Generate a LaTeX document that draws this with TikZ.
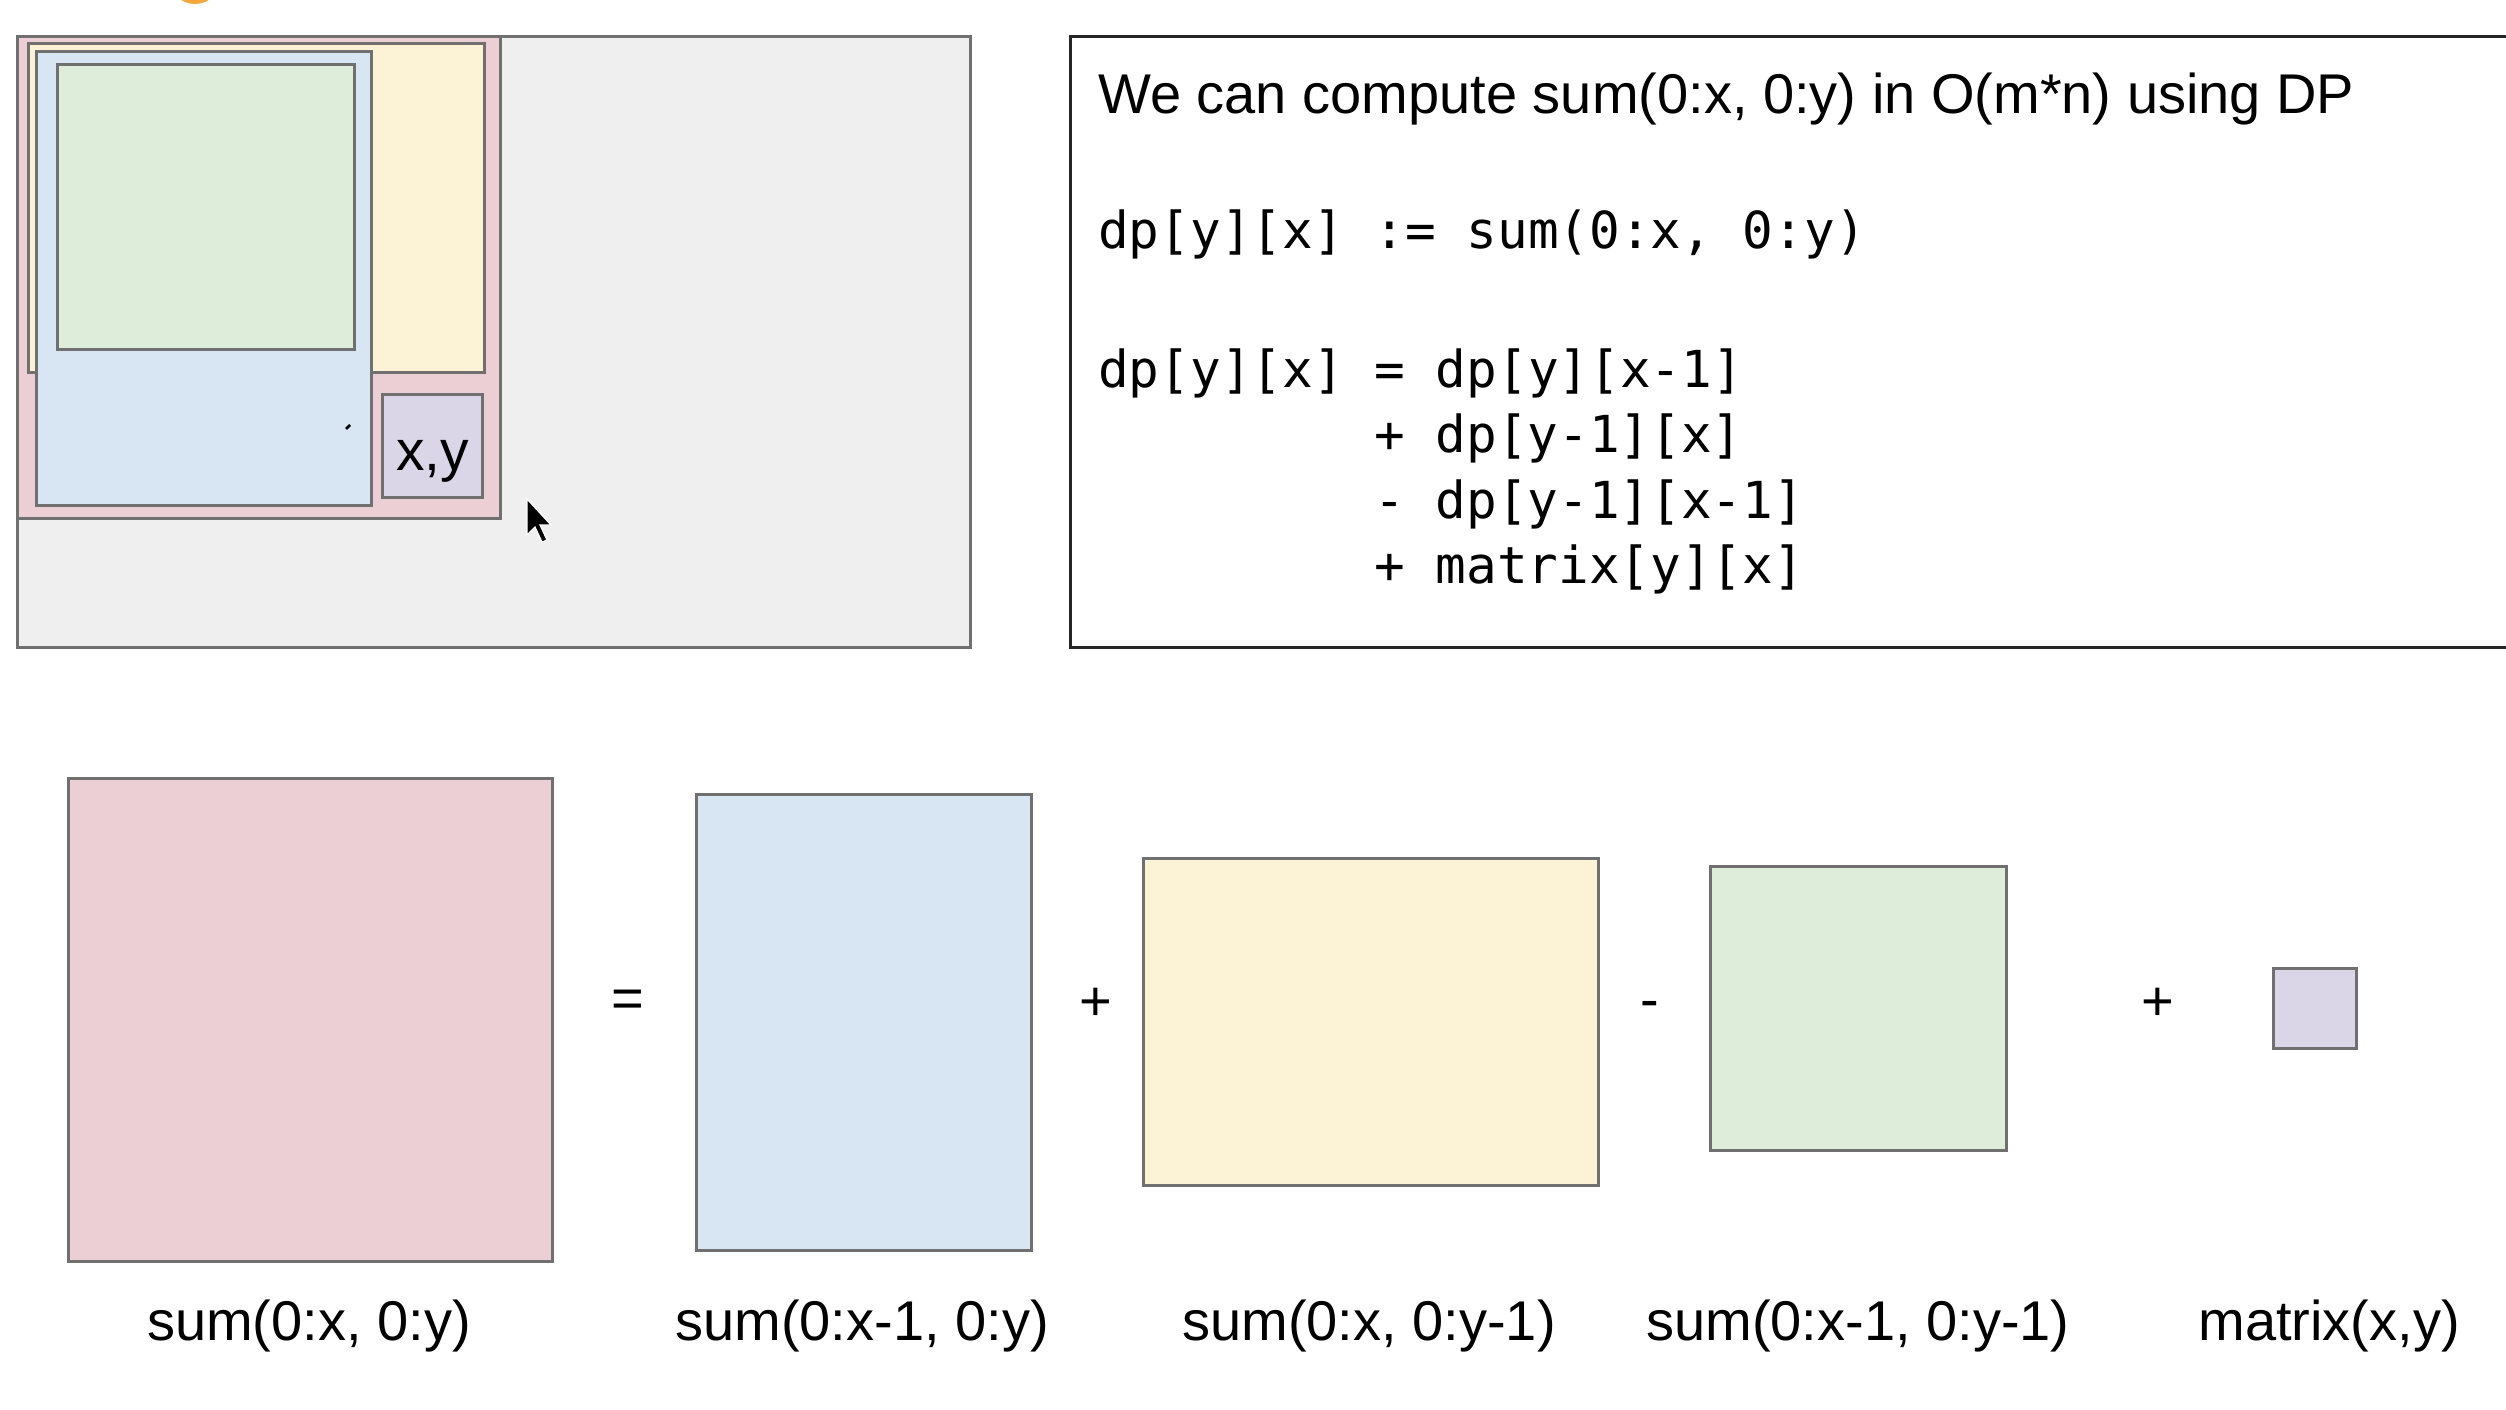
\documentclass[tikz,border=0pt]{standalone}
\usepackage{fontspec}
\setmainfont{Liberation Sans}
\newfontfamily\codefont{DejaVu Sans Mono}
\definecolor{bggray}{HTML}{EFEFEF}
\definecolor{edgegray}{HTML}{707070}
\definecolor{cpink}{HTML}{ECCFD5}
\definecolor{cblue}{HTML}{D8E5F2}
\definecolor{cyellow}{HTML}{FCF2D5}
\definecolor{cgreen}{HTML}{DDEDDA}
\definecolor{cpurple}{HTML}{DAD6E8}
\definecolor{corange}{HTML}{F2A93B}
\tikzset{
  cell/.style={draw=edgegray, line width=3pt, inner sep=0pt, anchor=north west},
  labeltext/.style={font=\fontsize{56}{62}\selectfont, anchor=base, inner sep=0pt},
  codeline/.style={font=\codefont\fontsize{51}{60}\selectfont, anchor=base west, inner sep=0pt},
  optext/.style={font=\fontsize{56}{62}\selectfont, inner sep=0pt}
}
\begin{document}
\begin{tikzpicture}[x=1pt, y=-1pt]
\useasboundingbox (0,0) rectangle (2506,1410);
\fill[white] (0,0) rectangle (2506,1410);
% orange blob at top edge
\fill[corange] (195,-22) circle (26);
% top-left nested rectangles
\node[cell, fill=bggray, minimum width=953, minimum height=611] (bg) at (16,35) {};
\node[cell, fill=cpink, minimum width=483, minimum height=482] (pinkT) at (16,35) {};
\node[cell, fill=cyellow, minimum width=456, minimum height=329] (yellowT) at (27,42) {};
\node[cell, fill=cblue, minimum width=335, minimum height=454] (blueT) at (35,50) {};
\node[cell, fill=cgreen, minimum width=297, minimum height=285] (greenT) at (56,63) {};
\node[cell, fill=cpurple, minimum width=100, minimum height=103] (xyT) at (381,393) {};
\node[font=\fontsize{57}{60}\selectfont, inner sep=0pt] (xylab) at (xyT.center) [yshift=-15pt] {x,y};
% tiny mark
\draw[line width=2.5pt] (346,429) -- (350,425);
% mouse cursor
\coordinate (cur) at (527,499);
\fill[black, draw=white, line width=1.2pt] (cur) -- ++(0,36) -- ++(8,-8) -- ++(7,15) -- ++(5,-2) -- ++(-7,-15) -- ++(11,0) -- cycle;
% code box
\node[cell, draw=black!85, fill=white, minimum width=1500, minimum height=611] (codebox) at (1069,35) {};
\node[labeltext, anchor=base west] (t0) at (1098,114) {We can compute sum(0:x, 0:y) in O(m*n) using DP};
\node[codeline] (t1) at (1098,248) {dp[y][x] := sum(0:x, 0:y)};
\node[codeline] (t2) at (1098,387) {dp[y][x] = dp[y][x-1]};
\node[codeline] (t3) at (1374,452) {+ dp[y-1][x]};
\node[codeline] (t4) at (1374,518) {- dp[y-1][x-1]};
\node[codeline] (t5) at (1374,583) {+ matrix[y][x]};
% bottom row
\node[cell, fill=cpink, minimum width=484, minimum height=483] (pinkB) at (67,777) {};
\node[cell, fill=cblue, minimum width=335, minimum height=456] (blueB) at (695,793) {};
\node[cell, fill=cyellow, minimum width=455, minimum height=327] (yellowB) at (1142,857) {};
\node[cell, fill=cgreen, minimum width=296, minimum height=284] (greenB) at (1709,865) {};
\node[cell, fill=cpurple, minimum width=83, minimum height=80] (purpleB) at (2272,967) {};
\node[optext] (op1) at (628,1004) {=};
\node[optext] (op2) at (1096,1004) {+};
\node[optext] (op3) at (1650,1010) {-};
\node[optext] (op4) at (2158,1004) {+};
\node[labeltext] (lab1) at (309,1340) {sum(0:x, 0:y)};
\node[labeltext] (lab2) at (862,1340) {sum(0:x-1, 0:y)};
\node[labeltext] (lab3) at (1369,1340) {sum(0:x, 0:y-1)};
\node[labeltext] (lab4) at (1858,1340) {sum(0:x-1, 0:y-1)};
\node[labeltext] (lab5) at (2329,1340) {matrix(x,y)};
\end{tikzpicture}
\end{document}
